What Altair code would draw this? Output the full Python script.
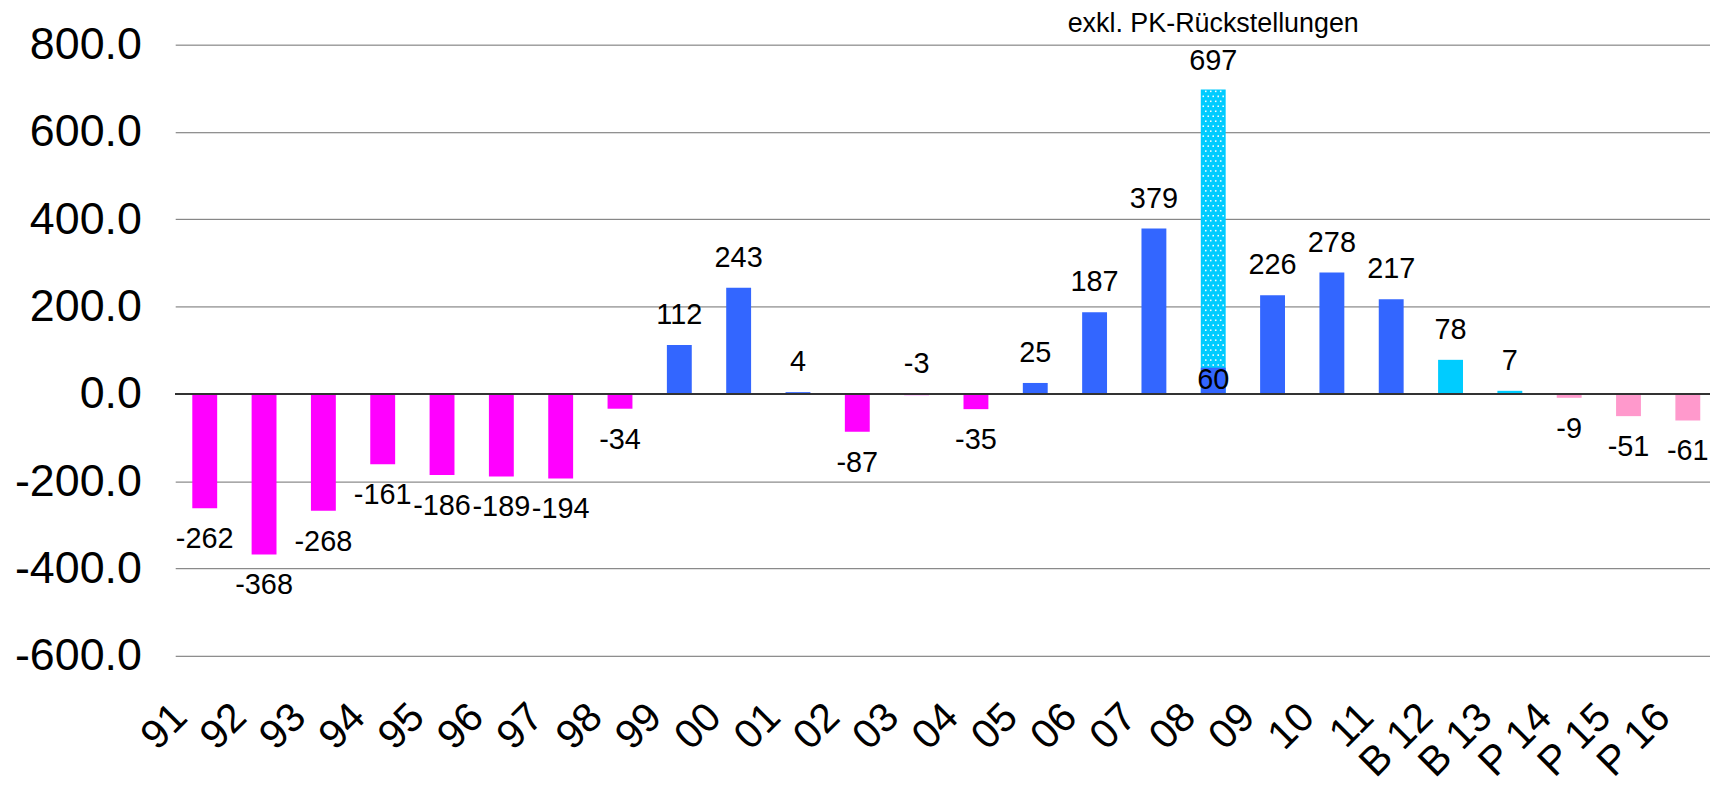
import altair as alt
import pandas as pd

# ---------------- data ----------------
categories = ["91", "92", "93", "94", "95", "96", "97", "98", "99", "00",
              "01", "02", "03", "04", "05", "06", "07", "08", "09", "10",
              "11", "B 12", "B 13", "P 14", "P 15", "P 16"]
values = [-262, -368, -268, -161, -186, -189, -194, -34, 112, 243,
          4, -87, -3, -35, 25, 187, 379, 60, 226, 278,
          217, 78, 7, -9, -51, -61]
kinds = ["Ist"] * 21 + ["Budget"] * 2 + ["Plan"] * 3

pk_category = "08"
pk_value = 697
pk_note = "exkl. PK-Rückstellungen"

y_ticks = [-600, -400, -200, 0, 200, 400, 600, 800]

FONT = "Liberation Sans"

df = pd.DataFrame({"cat": categories, "v": values, "kind": kinds})
pk = pd.DataFrame({"cat": [pk_category], "v": [pk_value], "note": [pk_note]})
pk_base = values[categories.index(pk_category)]

# ---------------- encodings ----------------
x_scale = alt.Scale(domain=categories, paddingInner=0.5805, paddingOuter=0.226, align=0.637)
x_axis = alt.Axis(
    title=None, orient="bottom", grid=False, ticks=False, domain=False,
    labelAngle=-45, labelAlign="right", labelBaseline="middle",
    labelFontSize=41, labelFont=FONT, labelColor="black",
    labelPadding=55, labelOffset=-24, labelOverlap=False, labelBound=False,
    labelFlush=False,
)
y_scale = alt.Scale(domain=[-600, 800], nice=False, zero=False)
y_axis = alt.Axis(
    title=None, values=y_ticks, grid=True, gridColor="#6e6e6e", gridWidth=1,
    ticks=False, domain=False, labelFontSize=45, labelFont=FONT,
    labelColor="black", labelPadding=34,
    labelExpr="replace(format(datum.value, '.1f'), '\u2212', '-')",
)

def X(field="cat"):
    return alt.X(f"{field}:N", sort=categories, scale=x_scale, axis=x_axis)

def Y(field):
    return alt.Y(f"{field}:Q", scale=y_scale, axis=y_axis)

base = alt.Chart(df)

# dotted "exkl. PK" bar (underneath)
pk_bar = alt.Chart(pk).mark_bar(color="#00CCFF").encode(x=X(), y=Y("v"), y2=alt.datum(0))

# dot texture on the PK bar
n_rows = int((pk_value - pk_base - 8) / 11.4)
dot_layers = []
for parity, offsets in [(0, [-10, -5, 0, 5, 10]), (1, [-7.5, -2.5, 2.5, 7.5])]:
    for off in offsets:
        dot_layers.append(
            alt.Chart(alt.sequence(0, n_rows + 1, as_="i"))
            .transform_calculate(
                cat=f"'{pk_category}'",
                y=f"{pk_base + 6} + datum.i * 11.4",
                par="datum.i % 2",
            )
            .transform_filter(f"datum.par == {parity} && datum.y < {pk_value - 3}")
            .mark_point(shape="square", filled=True, size=2.5, color="white",
                        opacity=0.95, xOffset=off)
            .encode(x=X(), y=Y("y"))
        )

# main bars
bars = (
    base.transform_calculate(
        grp="datum.kind == 'Ist' ? (datum.v < 0 ? 'neg' : 'pos') : datum.kind"
    )
    .mark_bar()
    .encode(
        x=X(),
        y=Y("v"),
        y2=alt.datum(0),
        color=alt.Color(
            "grp:N",
            scale=alt.Scale(domain=["neg", "pos", "Budget", "Plan"],
                            range=["#FF00FF", "#3366FF", "#00CCFF", "#FF99CC"]),
            legend=None,
        ),
    )
)

zero_rule = base.mark_rule(color="#333333", strokeWidth=1.2).encode(y=alt.datum(0))

lab_common = dict(fontSize=29, font=FONT, color="black", baseline="alphabetic", align="center")

labels_up = (
    base.transform_filter(f"datum.cat != '{pk_category}' && datum.v > -5")
    .transform_calculate(lab="'' + datum.v", ly="max(datum.v, 0)")
    .mark_text(dy=-21, **lab_common)
    .encode(x=X(), y=Y("ly"), text="lab:N")
)
labels_down = (
    base.transform_filter(f"datum.cat != '{pk_category}' && datum.v <= -5")
    .transform_calculate(lab="'' + datum.v")
    .mark_text(dy=40, **lab_common)
    .encode(x=X(), y=Y("v"), text="lab:N")
)
label_inside = (
    base.transform_filter(f"datum.cat == '{pk_category}'")
    .transform_calculate(lab="'' + datum.v")
    .mark_text(dy=21, **lab_common)
    .encode(x=X(), y=Y("v"), text="lab:N")
)
pk_label = (
    alt.Chart(pk)
    .transform_calculate(lab="'' + datum.v")
    .mark_text(dy=-20, **lab_common)
    .encode(x=X(), y=Y("v"), text="lab:N")
)
pk_title = (
    alt.Chart(pk)
    .transform_calculate(top="800")
    .mark_text(dy=-13, fontSize=27, font=FONT, color="black", baseline="alphabetic", align="center")
    .encode(x=X(), y=Y("top"), text="note:N")
)

chart = (
    alt.layer(pk_bar, *dot_layers, bars, zero_rule, labels_up, labels_down,
              label_inside, pk_label, pk_title)
    .properties(
        width=1542,
        height=614,
        autosize=alt.AutoSizeParams(type="none"),
        padding={"left": 168, "top": 35, "right": 0, "bottom": 130},
        background="white",
    )
    .configure_view(stroke=None)
)

chart.save("out.html", embed_options={"renderer": "svg", "actions": False})
